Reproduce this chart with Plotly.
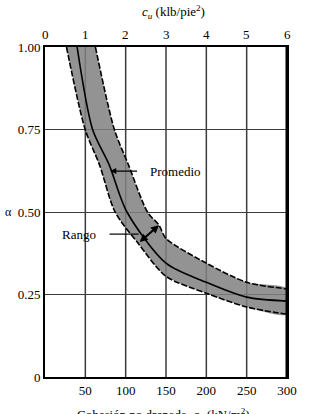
import plotly.graph_objects as go

# --- data ---
cu_lower = [26.6, 49.8, 67.7, 86.9, 115.5, 150, 200, 250, 300]
a_lower = [1.00, 0.75, 0.642, 0.50, 0.405, 0.305, 0.254, 0.212, 0.19]

cu_avg = [39.8, 59, 79.7, 101.6, 150, 200, 250, 300]
a_avg = [1.00, 0.75, 0.642, 0.50, 0.345, 0.287, 0.242, 0.23]

cu_upper = [62.5, 86, 103.6, 127, 141.3, 150, 200, 250, 300]
a_upper = [1.00, 0.75, 0.642, 0.50, 0.46, 0.42, 0.345, 0.287, 0.267]

x_tickvals = [50, 100, 150, 200, 250, 300]
x_ticktext = ["50", "100", "150", "200", "250", "300"]
x_gridvals = [50, 100, 150, 200, 250]
y_tickvals = [0, 0.25, 0.5, 0.75, 1.0]
y_ticktext = ["0", "0.25", "0.50", "0.75", "1.00"]
top_tickvals = [0, 1, 2, 3, 4, 5, 6]

FONT = "Liberation Serif"
W, H = 309, 414
L, R, T, B = 45, 13, 47, 37
GRID = "rgb(60,60,60)"

fig = go.Figure()

# shaded range band
fig.add_trace(go.Scatter(
    x=cu_lower + cu_upper[::-1], y=a_lower + a_upper[::-1],
    fill="toself", fillcolor="rgba(128,128,128,0.85)",
    line=dict(width=0, shape="spline", smoothing=0.8),
    mode="lines", hoverinfo="skip", showlegend=False))
# dashed edges
for xs, ys in ((cu_lower, a_lower), (cu_upper, a_upper)):
    fig.add_trace(go.Scatter(
        x=xs, y=ys, mode="lines",
        line=dict(color="black", width=1.6, dash="6px,2px", shape="spline", smoothing=0.8),
        hoverinfo="skip", showlegend=False))
# average curve
fig.add_trace(go.Scatter(
    x=cu_avg, y=a_avg, mode="lines",
    line=dict(color="black", width=1.6, shape="spline", smoothing=0.8),
    hoverinfo="skip", showlegend=False))
# right frame as an unclipped line at the axis end
fig.add_trace(go.Scatter(
    x=[x_tickvals[-1], x_tickvals[-1]], y=[y_tickvals[0], y_tickvals[-1]],
    mode="lines", line=dict(color="black", width=3), cliponaxis=False,
    hoverinfo="skip", showlegend=False))

tickfont = dict(family=FONT, size=13, color="black")

fig.update_layout(
    width=W, height=H, autosize=False,
    margin=dict(l=L, r=R, t=T, b=B, pad=0),
    paper_bgcolor="white", plot_bgcolor="white",
    font=dict(family=FONT, size=13, color="black"),
    xaxis=dict(range=[0, 300], tickvals=x_tickvals, ticktext=x_ticktext,
               showgrid=False,
               showline=True, linecolor="black", linewidth=2, mirror=True,
               zeroline=False, ticks="", tickfont=tickfont,
               fixedrange=True),
    yaxis=dict(range=[0, 1], tickvals=y_tickvals, ticktext=y_ticktext,
               showgrid=True, gridcolor=GRID, gridwidth=1,
               showline=True, linecolor="black", linewidth=2, mirror=True,
               zeroline=False, ticks="", tickfont=tickfont,
               fixedrange=True),
    showlegend=False,
)

# vertical grid lines as shapes (axis-referenced, below the data)
for gv in x_gridvals:
    fig.add_shape(type="line", xref="x", yref="y", x0=gv, x1=gv, y0=0, y1=1,
                  line=dict(color=GRID, width=1.5), layer="below")

# top axis tick labels (klb/pie^2)
for tv in top_tickvals:
    fig.add_annotation(xref="x", yref="paper", x=tv * 50, y=1, yshift=3,
                       text=str(tv), showarrow=False, xanchor="center", yanchor="bottom",
                       font=tickfont)

# axis titles
fig.add_annotation(xref="paper", yref="paper", x=0.53, y=1, yshift=35,
                   text="<i>c<sub>u</sub></i> (klb/pie<sup>2</sup>)",
                   showarrow=False, font=dict(family=FONT, size=13, color="black"),
                   xanchor="center", yanchor="middle")
fig.add_annotation(xref="paper", yref="paper", x=0.49, y=0, yshift=-27,
                   text="Cohesión no drenada, <i>c<sub>u</sub></i> (kN/m<sup>2</sup>)",
                   showarrow=False, font=dict(family=FONT, size=13, color="black"),
                   xanchor="center", yanchor="top")
fig.add_annotation(xref="paper", yref="y", x=0, xshift=-42, y=0.5,
                   text="α", showarrow=False,
                   font=dict(family=FONT, size=12, color="black"),
                   xanchor="left", yanchor="middle")

# Promedio label + arrow
fig.add_annotation(x=128, y=0.624, xref="x", yref="y", text="Promedio",
                   showarrow=False, xanchor="left", yanchor="middle",
                   font=dict(family=FONT, size=13, color="black"))
fig.add_annotation(x=81, y=0.624, ax=116, ay=0.624, xref="x", yref="y",
                   axref="x", ayref="y", text="", showarrow=True,
                   arrowhead=2, arrowsize=1, arrowwidth=1.2, arrowcolor="black")

# Rango label + leader + double arrow
fig.add_annotation(x=66, y=0.433, xref="x", yref="y", text="Rango",
                   showarrow=False, xanchor="right", yanchor="middle",
                   font=dict(family=FONT, size=13, color="black"))
fig.add_shape(type="line", xref="x", yref="y", x0=80, x1=116, y0=0.433, y1=0.433,
              line=dict(color="black", width=1.2))
fig.add_annotation(x=141.3, y=0.46, ax=115.5, ay=0.405, xref="x", yref="y",
                   axref="x", ayref="y", text="", showarrow=True,
                   arrowhead=2, arrowside="end+start", arrowsize=0.8,
                   arrowwidth=2, arrowcolor="black")

fig.write_html("out.html", config={"responsive": False})
